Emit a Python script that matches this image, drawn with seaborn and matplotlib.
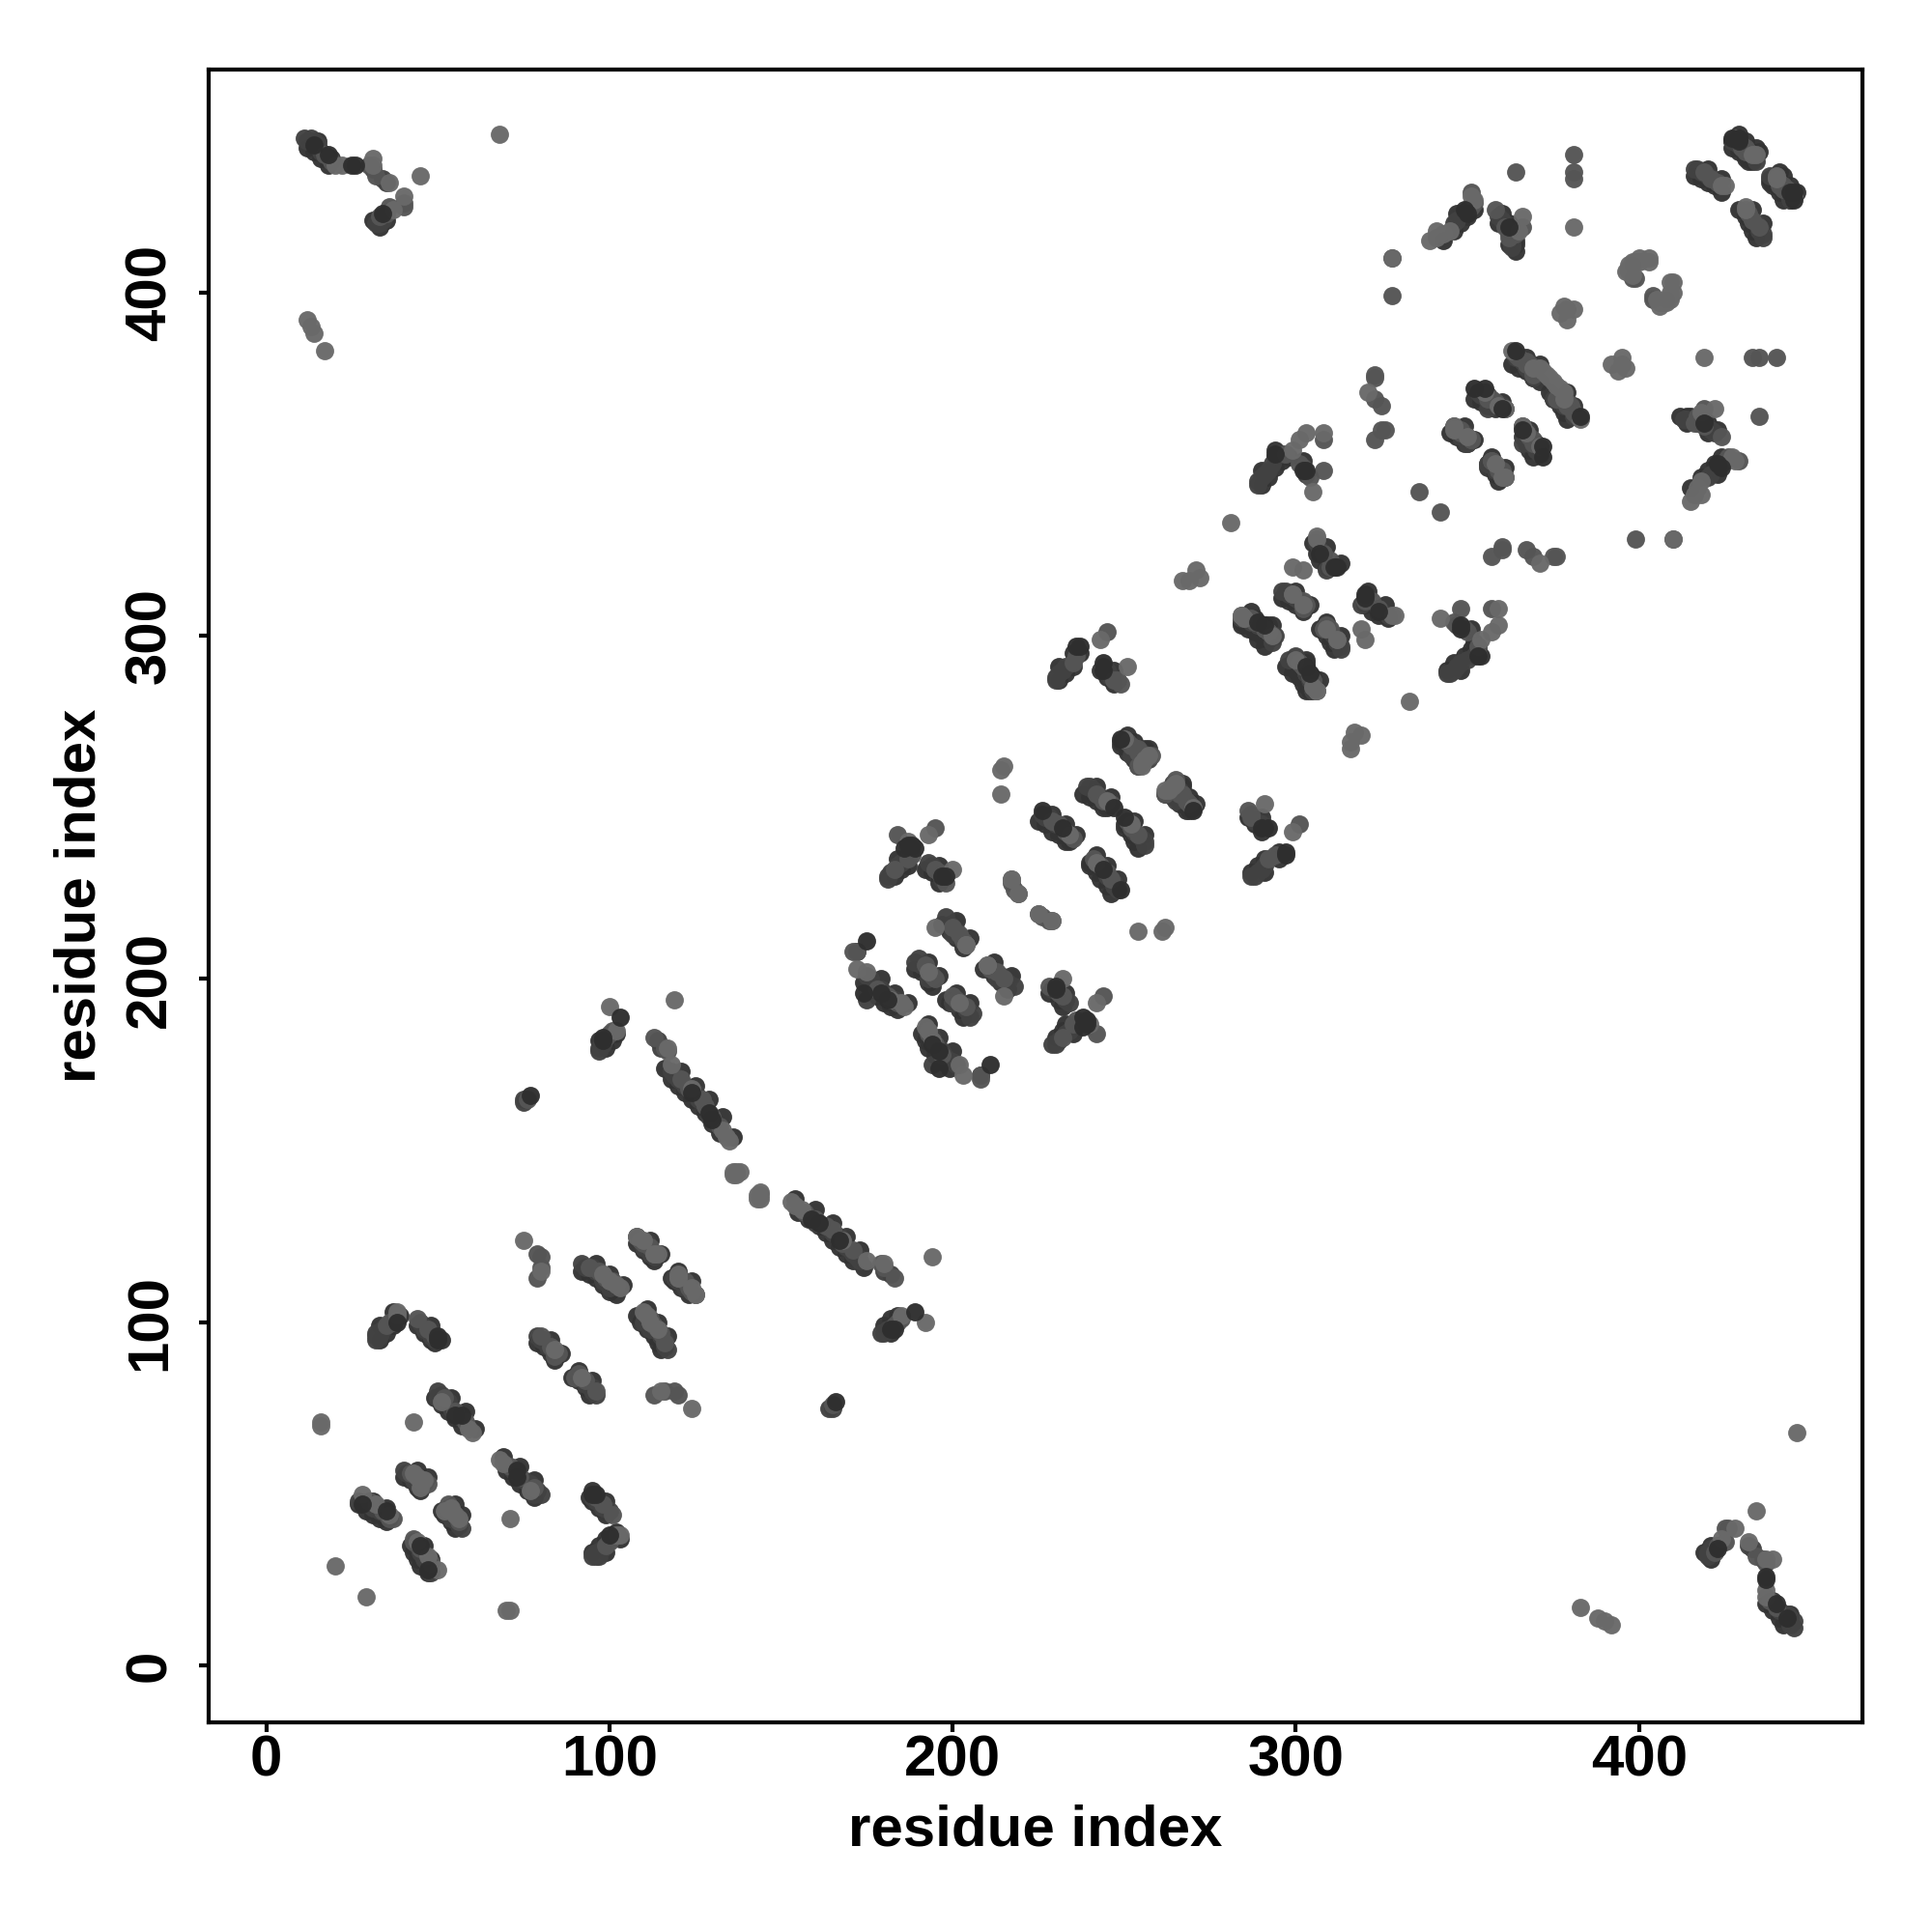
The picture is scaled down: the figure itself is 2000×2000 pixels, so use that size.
import pandas as pd
import matplotlib
matplotlib.use("Agg")
import matplotlib.pyplot as plt
import seaborn as sns

edge_pairs = [
    (12,442),(14,441),(16,439),(18,437),(15,444),(19,439),(33,419),(35,421),(31,421),
    (27,47),(29,45),(31,44),(33,43),(35,42),(31,48),(35,46),
    (33,95),(35,97),(37,99),(39,102),(33,99),(37,103),
    (44,99),(46,97),(48,95),(49,94),(48,99),(51,95),
    (40,55),(42,54),(44,52),(45,51),(44,57),(47,55),
    (49,78),(51,76),(53,74),(55,72),(57,70),(54,78),(58,74),(61,69),
    (79,94),(81,93),(83,91),(84,89),(83,95),(86,91),
    (92,115),(94,114),(96,113),(98,111),(100,109),(102,108),(96,117),(100,114),(104,111),
    (108,123),(110,121),(112,119),(113,118),(112,124),(115,120),
    (116,174),(118,171),(120,169),(122,167),(124,165),(126,163),(128,161),(130,158),(132,155),
    (121,173),(125,169),(129,165),(133,160),(136,154),
    (99,180),(101,182),(102,184),(97,182),
    (174,199),(176,197),(178,195),(180,193),(182,192),(184,191),(179,200),(183,196),(187,193),
    (189,203),(191,202),(193,199),(194,198),(193,205),(196,201),
    (197,216),(199,214),(201,212),(203,209),(201,217),(205,212),
    (183,230),(185,232),(187,233),(184,235),(192,232),(194,231),(196,228),(196,233),
    (225,246),(227,245),(229,243),(231,242),(233,240),(234,240),(229,248),(233,245),(236,242),
    (238,254),(240,253),(242,252),(244,250),(245,250),(242,256),(246,253),
    (249,268),(251,266),(253,264),(254,262),(253,269),(257,267),
    (263,255),(265,254),(267,252),(269,249),(267,256),(271,251),
    (231,287),(233,289),(235,291),(237,295),(231,291),(235,295),
    (243,290),(245,288),(247,286),(247,290),
    (290,344),(292,346),(294,349),(296,351),(298,352),(290,348),(294,354),(302,351),
    (284,303),(286,302),(288,302),(290,300),(292,299),(288,305),(292,303),
    (296,311),(298,310),(300,309),(302,307),(300,313),(304,309),
    (297,291),(299,289),(301,288),(303,286),(304,284),(303,293),(307,287),
    (305,327),(306,324),(307,322),(309,320),(309,326),(313,321),
    (345,359),(347,358),(349,356),(349,361),(352,357),
    (352,369),(354,368),(356,367),(358,366),(356,370),(360,368),
    (363,379),(365,378),(367,377),(369,375),(371,374),(367,381),(371,379),
    (343,415),(346,418),(348,420),(350,422),(352,424),(347,423),
    (360,423),(362,420),(364,415),(359,420),(362,414),(363,419),(364,414),(364,412),
    (416,434),(418,433),(420,432),(422,431),(424,429),(420,436),(424,433),
    (427,442),(429,441),(431,439),(433,438),(431,444),(435,441),
    (438,432),(440,431),(442,429),(444,427),(442,434),(446,429),
]

dark_pairs = [
    (11,445),(13,445),(12,444),(14,444),(15,443),(16,441),(31,436),(34,433),(35,432),(32,420),(33,420),(34,421),
    (27,48),(29,47),(31,46),(33,45),(35,44),(32,95),(32,96),(32,97),(33,96),(34,98),(45,100),(46,98),(48,96),(49,95),
    (40,57),(41,56),(43,54),(44,53),(50,80),(50,78),(51,79),(53,77),(54,75),(56,73),(57,72),
    (92,117),(93,116),(95,116),(96,115),(98,112),(100,110),(108,125),(109,124),(110,122),(111,123),
    (119,113),(120,112),(121,112),(122,111),(79,96),(80,95),(81,95),(82,93),(97,179),(97,180),(98,181),
    (75,164),(75,165),(114,182),(115,180),(118,173),(119,172),(120,171),(122,169),(125,167),(126,165),(129,160),(131,158),
    (172,208),(175,201),(176,200),(177,198),(179,197),(180,196),(183,194),(175,194),
    (189,205),(190,206),(191,204),(193,200),(198,218),(199,216),(200,213),(201,214),
    (181,229),(181,230),(182,231),(184,233),(185,234),(193,234),(194,233),(197,229),
    (226,248),(227,247),(228,247),(230,245),(239,256),(240,256),(241,255),(243,253),
    (250,270),(251,269),(253,267),(264,257),(265,252),(266,255),(268,252),
    (230,287),(230,288),(231,289),(232,290),(233,291),(244,291),(245,290),(246,288),
    (289,344),(289,345),(290,346),(291,347),(292,348),(293,350),(294,352),(295,353),(296,353),(303,347),
    (284,305),(287,304),(288,304),(289,303),(290,303),(296,313),(297,313),(298,312),(300,311),(301,310),
    (298,293),(300,294),(301,292),(303,291),(303,289),(306,327),(307,325),(308,324),(309,319),
    (346,361),(347,360),(349,359),(350,356),(353,371),(354,370),(356,366),(364,381),(365,381),(366,380),
    (356,350),(358,348),(366,361),(367,360),(368,356),(375,369),(377,369),(378,367),(380,366),
    (346,420),(347,421),(349,423),(350,424),(359,422),(360,421),(362,417),(363,414),(363,413),
    (416,436),(417,436),(418,435),(420,434),(427,444),(428,444),(429,443),(438,434),(440,433),(441,432),
]

mid_pairs = [
    (17,440),(19,438),(33,422),(35,423),(36,425),(40,425),(40,426),(30,437),(32,434),
    (36,43),(37,43),(30,48),(34,45),(44,101),(47,98),(49,96),(36,100),(37,100),(35,99),
    (42,56),(45,54),(46,53),(47,53),(52,78),(55,74),(58,71),(79,113),(79,120),(80,116),(80,119),
    (94,116),(97,115),(99,113),(101,112),(112,122),(113,120),(123,110),(124,109),(80,96),(83,93),(84,90),(85,91),
    (99,183),(100,184),(101,185),(76,165),(113,183),(116,180),(117,179),(121,171),(123,168),(127,165),(128,163),(130,160),(132,157),
    (171,208),(172,208),(178,197),(181,195),(184,193),(192,204),(194,201),(195,200),(200,215),(202,213),(203,211),
    (183,232),(187,235),(188,236),(195,232),(196,231),(198,228),(184,242),(195,244),(217,228),(218,226),(225,219),
    (229,246),(231,245),(233,243),(235,241),(242,254),(244,252),(246,251),
    (252,268),(254,266),(258,265),(262,254),(265,256),(267,254),(269,251),
    (235,292),(236,294),(245,301),(247,287),(248,287),(249,286),
    (297,353),(301,350),(302,349),(304,346),(323,357),(325,360),(326,360),(323,369),(325,367),(323,375),
    (285,305),(291,302),(292,301),(299,312),(302,310),(303,309),(302,308),(302,291),(304,288),(305,287),
    (308,324),(310,322),(310,320),(348,360),(351,357),(356,369),(358,368),(367,380),(368,379),(370,378),
    (357,351),(359,348),(360,347),(369,357),(370,356),(376,369),(379,367),(381,365),(382,364),
    (351,425),(351,429),(352,426),(358,424),(361,419),(362,416),(364,417),(366,419),
    (419,435),(421,433),(423,432),(430,442),(431,441),(432,441),(442,431),(443,430),
    (404,398),(408,398),(328,410),(308,348),(364,435),(381,440),(308,357),(376,323),(404,399),
    (336,342),(328,399),(381,435),(381,433),
]

light_pairs = [
    (68,446),(45,434),(17,383),(12,392),(13,390),(14,388),(20,437),(22,437),(31,439),(31,437),(36,432),(37,424),(40,428),
    (75,124),(43,71),(20,29),(16,70),(16,71),(119,194),(80,115),
    (28,50),(32,47),(36,44),(38,102),(38,103),(43,56),(44,55),(46,54),(51,77),(59,69),(60,68),(45,52),
    (98,114),(100,112),(102,111),(103,110),(110,124),(113,120),(114,120),(125,108),(84,92),
    (100,192),(102,185),(117,180),(118,175),(124,168),(133,156),(134,154),(135,153),(136,143),(137,144),(138,144),(136,144),(137,143),
    (172,203),(175,202),(182,194),(185,193),(186,192),(193,202),(195,215),(204,210),(200,232),(193,242),
    (214,254),(214,261),(215,262),(217,229),(219,225),(229,217),(187,240),(204,210),
    (234,242),(245,252),(255,262),(255,263),(257,265),(256,264),(270,250),(267,316),(269,316),(271,319),(272,317),
    (243,299),(251,291),(281,333),(299,354),(301,357),(303,359),(308,359),(305,342),(321,371),
    (306,329),(306,328),(299,320),(302,319),(293,300),(284,306),(299,312),(302,309),(305,285),(306,284),
    (346,360),(350,358),(359,367),(361,366),(369,378),(371,378),(372,377),(373,376),(374,375),
    (361,346),(371,355),(383,363),(339,415),(341,416),(341,418),(343,417),(345,418),(352,427),(351,428),
    (365,418),(366,422),(381,419),(377,394),(378,396),(379,395),(379,392),(381,395),
    (396,406),(397,408),(398,409),(400,409),(403,409),(398,405),(406,397),(407,397),(409,399),(410,400),(410,403),
    (424,431),(425,431),(433,440),(434,440),(445,428),(328,410),
]

black_pairs = [
    (18,440),(25,437),(26,437),(14,443),(34,423),(38,100),(50,95),(50,96),(28,47),(35,45),(55,73),(57,73),
    (98,182),(98,183),(103,189),(77,166),(124,167),(129,161),(130,159),
    (175,211),(174,196),(179,196),(181,194),(186,238),(187,239),(188,239),(189,238),(197,230),(198,230),
    (226,249),(232,244),(247,250),(270,249),(236,297),(237,297),(244,290),(244,292),
    (302,348),(303,348),(312,320),(311,320),(307,324),(294,353),
    (352,372),(360,366),(372,355),(383,364),(291,303),(304,289),
    (349,424),(350,423),(444,429),(445,429),(427,445),(362,419),
]

residue_ticks = [0, 100, 200, 300, 400]

sns.set_theme(style="white")
plt.rcParams["font.family"] = ["Liberation Sans", "DejaVu Sans"]

groups = [(edge_pairs, "#333333"), (dark_pairs, "#424242"), (mid_pairs, "#555555"), (light_pairs, "#696969"), (black_pairs, "#2e2e2e")]

fig = plt.figure(figsize=(10, 10), dpi=200)
ax = fig.add_axes([0.10775, 0.1085, 0.8561, 0.85575])

for pairs, col in groups:
    cl = pd.DataFrame(pairs, columns=["i", "j"])
    # both halves of the symmetric map
    both = pd.DataFrame({"x": pd.concat([cl["i"], cl["j"]]), "y": pd.concat([cl["j"], cl["i"]])})
    sns.scatterplot(data=both, x="x", y="y", color=col, s=46, linewidth=0, alpha=0.97, ax=ax, legend=False)

ax.set_xlim(-16.9, 465)
ax.set_ylim(-16.5, 465)
ax.set_xticks(residue_ticks)
ax.set_yticks(residue_ticks)
ax.set_xticklabels(residue_ticks, fontsize=21.6, fontweight="bold", color="black")
ax.set_yticklabels(residue_ticks, fontsize=21.6, fontweight="bold", color="black", rotation=90, va="center")
ax.tick_params(axis="x", length=3.5, width=1.5, color="black", bottom=True, pad=1)
ax.tick_params(axis="y", length=3.5, width=1.5, color="black", left=True, pad=8)
ax.set_xlabel("residue index", fontsize=21.6, fontweight="bold", color="black", labelpad=6)
ax.set_ylabel("residue index", fontsize=21.6, fontweight="bold", color="black", labelpad=6.5)
for s in ax.spines.values():
    s.set_linewidth(1.5)
    s.set_color("black")

fig.savefig("out.png", dpi=200)
